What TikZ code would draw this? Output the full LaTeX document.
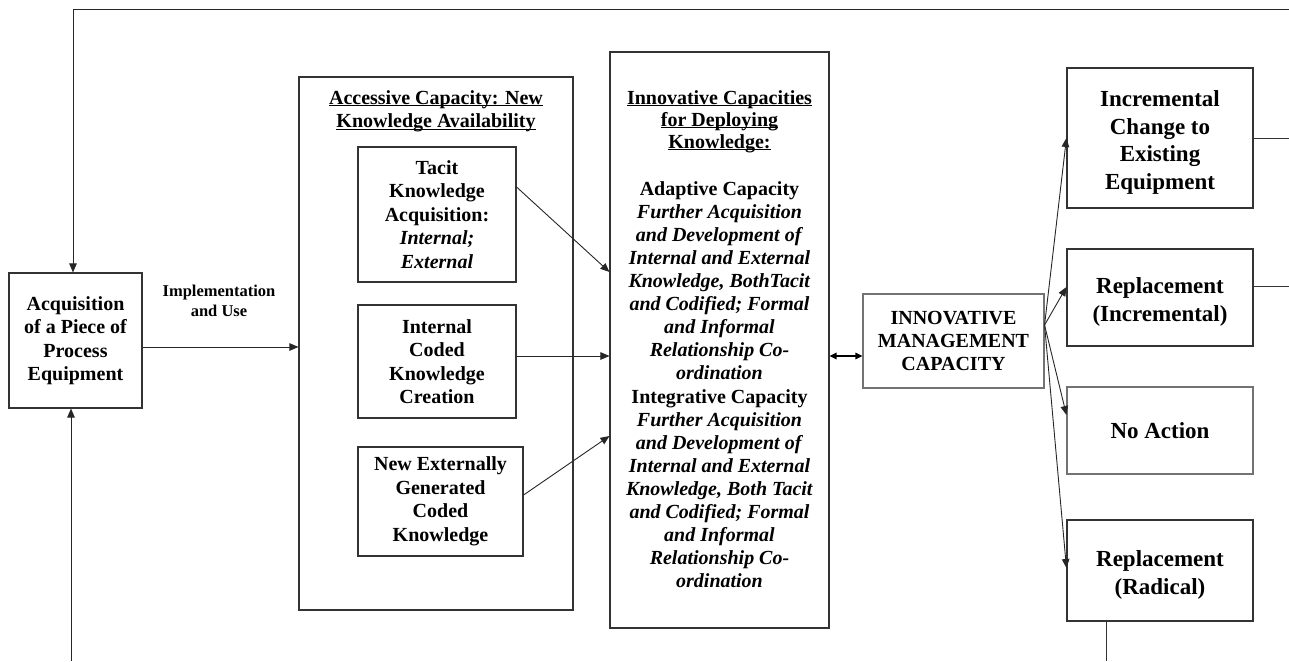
\documentclass[tikz,border=0pt]{standalone}
\usepackage{fontspec}
\setmainfont{Liberation Serif}
\usetikzlibrary{arrows.meta,calc}
\newcommand{\fz}[2]{\fontsize{#1}{#2}\selectfont\bfseries}
\newcommand{\ulx}[1]{\underline{\smash{#1}}}
\begin{document}
\begin{tikzpicture}[x=1pt,y=-1pt,
  box/.style={draw=black!80, line width=1.1pt, align=center, inner sep=0pt, font=\fz{20}{23.5}},
  bigbox/.style={box, font=\fz{23}{27.5}},
  lightbox/.style={draw=black!55},
  txt/.style={align=center, inner sep=0pt, font=\fz{20}{23.5}},
  bigtxt/.style={txt, font=\fz{23}{27.5}},
  arr/.style={-{Triangle[length=9pt,width=7.5pt]}, line width=0.9pt, draw=black!85},
  darr/.style={{Triangle[length=7pt,width=6.5pt]}-{Triangle[length=7pt,width=6.5pt]}, line width=1.3pt, draw=black},
  plain/.style={line width=1pt, draw=black!80}]
\path[use as bounding box] (0,0) rectangle (1289,661);
% nodes
\node[box, minimum width=133pt, minimum height=135pt] (acq) at (75.5,340.5) {Acquisition\\of a Piece of\\Process\\Equipment};
\node[txt, font=\fz{16.5}{19.5}] (impl) at (219,301) {Implementation\\and Use};
\node[box, minimum width=274pt, minimum height=533pt] (acc) at (436,343.5) {};
\node[txt] (acct) at (436,117) {\ulx{Accessive Capacity: New}\\\ulx{Knowledge Availability}};
\node[box, minimum width=158pt, minimum height=135pt] (tacit) at (437,214.5) {Tacit\\Knowledge\\Acquisition:\\\textit{Internal;}\\\textit{External}};
\node[box, minimum width=158pt, minimum height=113pt] (icc) at (437,361.5) {Internal\\Coded\\Knowledge\\Creation};
\node[box, minimum width=165pt, minimum height=109pt] (nec) at (440.5,501.5) {New Externally\\Generated\\Coded\\Knowledge};
\node[box, minimum width=219pt, minimum height=576pt] (inn) at (719.5,340) {};
\node[txt, font=\fz{20}{23.1}] (innt) at (719.5,346) {\ulx{Innovative Capacities}\\[-1.1pt]\ulx{for Deploying}\\[-1.1pt]\ulx{Knowledge:}\\[24pt]
Adaptive Capacity\\
\textit{Further Acquisition}\\
\textit{and Development of}\\
\textit{Internal and External}\\
\textit{Knowledge, BothTacit}\\
\textit{and Codified; Formal}\\
\textit{and Informal}\\
\textit{Relationship Co-}\\
\textit{ordination}\\
Integrative Capacity\\
\textit{Further Acquisition}\\
\textit{and Development of}\\
\textit{Internal and External}\\
\textit{Knowledge, Both Tacit}\\
\textit{and Codified; Formal}\\
\textit{and Informal}\\
\textit{Relationship Co-}\\
\textit{ordination}};
\node[box, lightbox, minimum width=181pt, minimum height=94pt, font=\fz{20}{23}] (imc) at (953.5,341) {INNOVATIVE\\MANAGEMENT\\CAPACITY};
\node[bigbox, minimum width=186pt, minimum height=140pt] (inc) at (1160,138) {};
\node[bigtxt] (inct) at (1160,142.5) {Incremental\\Change to\\Existing\\Equipment};
\node[bigbox, minimum width=186pt, minimum height=97pt] (repi) at (1160,297.5) {};
\node[bigtxt] (repit) at (1160,302) {Replacement\\(Incremental)};
\node[bigbox, lightbox, minimum width=186pt, minimum height=87pt] (noa) at (1160,430.5) {No Action};
\node[bigbox, minimum width=186pt, minimum height=101pt] (rad) at (1160,570.5) {};
\node[bigtxt] (radt) at (1160,575) {Replacement\\(Radical)};
% free ends
\coordinate (tr) at (1289,9);
\coordinate (bl) at (71,661);
\coordinate (incR) at (1289,138);
\coordinate (repR) at (1289,286);
\coordinate (radB) at (1106,661);
\coordinate (fo) at ([yshift=16pt]imc.east);
% connectors
\draw[arr] (tr) -| ([xshift=-2.5pt]acq.north);
\draw[arr] (bl) -- (bl |- acq.south);
\draw[arr] ([yshift=-6.5pt]acq.east) -- ([yshift=-6.5pt]acq.east -| acc.west);
\draw[arr] ([yshift=27.5pt]tacit.east) -- (inn.west |- 0,272);
\draw[arr] ([yshift=5.5pt]icc.east) -- ([yshift=5.5pt]icc.east -| inn.west);
\draw[arr] ([yshift=6.5pt]nec.east) -- (inn.west |- 0,436);
\draw[darr] (inn.east |- 0,356) -- (imc.west |- 0,356);
\draw[arr] (fo) -- (inc.west);
\draw[arr] (fo) -- ([yshift=10.5pt]repi.west);
\draw[arr] (fo) -- ([yshift=15.5pt]noa.west);
\draw[arr] (fo) -- ([yshift=2.5pt]rad.west);
\draw[plain] (inc.east) -- (incR);
\draw[plain] ([yshift=11.5pt]repi.east) -- (repR);
\draw[plain] ([xshift=-54pt]rad.south) -- (radB);
\end{tikzpicture}
\end{document}
